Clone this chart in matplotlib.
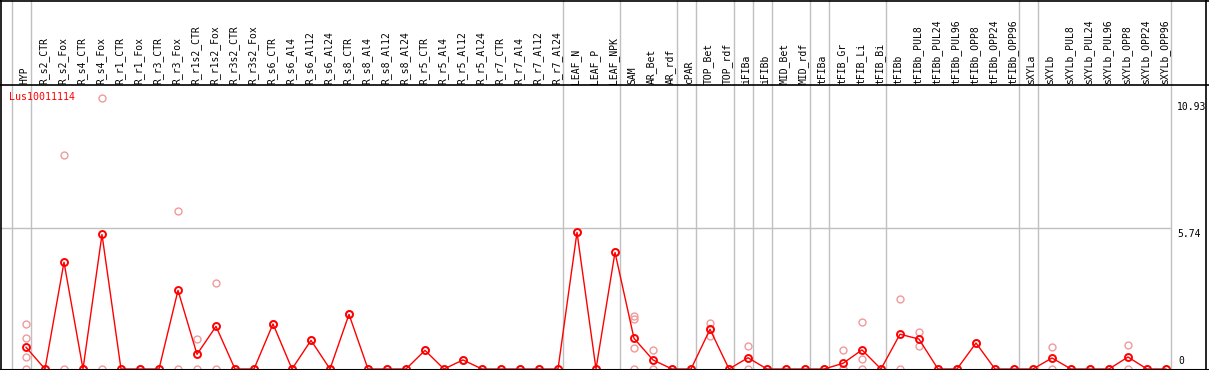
"""Expression profile of Lus10011114 across tissues / treatments."""

import matplotlib.pyplot as plt


SAMPLES = [
    "HYP",
    "R_s2_CTR", "R_s2_Fox", "R_s4_CTR", "R_s4_Fox", "R_r1_CTR", "R_r1_Fox",
    "R_r3_CTR", "R_r3_Fox", "R_r1s2_CTR", "R_r1s2_Fox", "R_r3s2_CTR", "R_r3s2_Fox",
    "R_s6_CTR", "R_s6_Al4", "R_s6_Al12", "R_s6_Al24", "R_s8_CTR", "R_s8_Al4",
    "R_s8_Al12", "R_s8_Al24", "R_r5_CTR", "R_r5_Al4", "R_r5_Al12", "R_r5_Al24",
    "R_r7_CTR", "R_r7_Al4", "R_r7_Al12", "R_r7_Al24",
    "LEAF_N", "LEAF_P", "LEAF_NPK",
    "SAM", "AR_Bet", "AR_rdf",
    "cPAR",
    "TOP_Bet", "TOP_rdf",
    "iFIBa",
    "iFIBb",
    "MID_Bet", "MID_rdf",
    "tFIBa",
    "tFIB_Gr", "tFIB_Li", "tFIB_Bi",
    "tFIBb", "tFIBb_PUL8", "tFIBb_PUL24", "tFIBb_PUL96", "tFIBb_OPP8",
    "tFIBb_OPP24", "tFIBb_OPP96",
    "sXYLa",
    "sXYLb", "sXYLb_PUL8", "sXYLb_PUL24", "sXYLb_PUL96", "sXYLb_OPP8",
    "sXYLb_OPP24", "sXYLb_OPP96",
]
GROUP_SIZES = [1, 28, 3, 3, 1, 2, 1, 1, 2, 1, 3, 7, 1, 7]

MEANS = [
    0.89,
    0, 4.36, 0, 5.49, 0, 0, 0, 3.21, 0.60, 1.74, 0, 0,
    1.84, 0, 1.17, 0, 2.23, 0, 0, 0, 0.76, 0, 0.37, 0, 0, 0, 0, 0,
    5.58, 0, 4.76,
    1.25, 0.37, 0,
    0,
    1.62, 0,
    0.46,
    0,
    0, 0,
    0,
    0.23, 0.78, 0,
    1.42, 1.22, 0, 0, 1.06, 0, 0,
    0,
    0.45, 0, 0, 0, 0.49, 0, 0,
]
REPLICATES = [
    [1.82, 1.25, 0.48, 0],
    [0, 0], [8.73, 0], [0, 0], [11.05, 0], [0, 0], [0, 0], [0, 0], [6.45, 0],
    [1.21, 0], [3.50, 0], [0, 0], [0, 0],
    [1.84, 1.84], [0, 0], [1.17, 1.17], [0, 0], [2.23, 2.23], [0, 0], [0, 0],
    [0, 0], [0.76, 0.76], [0, 0], [0.37, 0.37], [0, 0], [0, 0], [0, 0], [0, 0],
    [0, 0],
    [5.58, 5.58], [0, 0], [4.76, 4.76],
    [2.17, 2.04, 0.86, 0], [0.78, 0], [0, 0],
    [0, 0],
    [1.86, 1.35, 1.62], [0, 0],
    [0.94, 0],
    [0, 0],
    [0, 0], [0, 0],
    [0, 0],
    [0.78, 0, 0], [1.90, 0.40, 0], [0, 0],
    [2.85, 0], [1.51, 0.95], [0, 0], [0, 0], [1.06, 1.06], [0, 0], [0, 0],
    [0, 0],
    [0.90, 0], [0, 0], [0, 0], [0, 0], [0.97, 0], [0, 0], [0, 0],
]
TICK_VALUES = [10.93, 5.74, 0]
GENE = "Lus10011114"

# pixel layout of the original image
W, H = 1209, 370
X0, DX = 26, 19          # first column centre, column pitch
Y0, SCALE = 369, 24.5    # zero line, pixels per unit

RED = "#ff0000"
PINK = "#f09a9a"
GREY = "#c0c0c0"
MONO = "DejaVu Sans Mono"


def px_x(p: float) -> float:
    return (p - X0) / DX


def px_y(p: float) -> float:
    return (Y0 - p) / SCALE


def main() -> None:
    fig = plt.figure(figsize=(W / 100, H / 100), dpi=100)
    ax = fig.add_axes([0, 0, 1, 1])
    ax.set_xlim(px_x(0), px_x(W))
    ax.set_ylim(px_y(H), px_y(0))
    ax.axis("off")

    # group separators
    ends = [-1]
    for size in GROUP_SIZES:
        ends.append(ends[-1] + size)
    seps = [e + 0.24 for e in ends]
    for s in seps:
        ax.axvline(s, color=GREY, lw=1, zorder=1)
    ax.hlines(TICK_VALUES[1], px_x(0), seps[-1], color=GREY, lw=1, zorder=1)

    # frame
    ax.axhline(px_y(0.5), color="black", lw=1.2, zorder=5)
    ax.axhline(px_y(85), color="black", lw=1.2, zorder=5)
    ax.axhline(px_y(369.5), color="black", lw=1.5, zorder=5)
    ax.axvline(px_x(1.5), color="black", lw=1.2, zorder=5)
    ax.axvline(px_x(1206), color="black", lw=1.2, zorder=5)

    # sample labels
    for i, name in enumerate(SAMPLES):
        ax.text(i - 0.08, px_y(83.5), name, rotation=90, ha="center", va="bottom",
                fontsize=7, family=MONO, color="black")

    # replicates
    for i, reps in enumerate(REPLICATES):
        ax.plot([i] * len(reps), reps, "o", ms=5, mfc="none", mec=PINK, mew=1.0,
                zorder=2, clip_on=False)

    # means
    xs = list(range(len(MEANS)))
    ax.plot(xs, MEANS, "-", color=RED, lw=1, zorder=3)
    ax.plot(xs, MEANS, "o", ms=5, mfc="none", mec=RED, mew=1.4, zorder=4, clip_on=False)

    ax.text(px_x(9), px_y(97), GENE, color=RED, fontsize=7.2, family=MONO,
            ha="left", va="center")

    # value labels on the right
    for v in TICK_VALUES:
        if v == 0:
            ax.text(px_x(1178), v + 3 / SCALE, f"{v:g}", fontsize=7, family=MONO,
                    ha="left", va="bottom")
        else:
            ax.text(px_x(1177), v - 1 / SCALE, f"{v:g}", fontsize=7, family=MONO,
                    ha="left", va="top")

    fig.savefig("out.png", dpi=100)


if __name__ == "__main__":
    main()
